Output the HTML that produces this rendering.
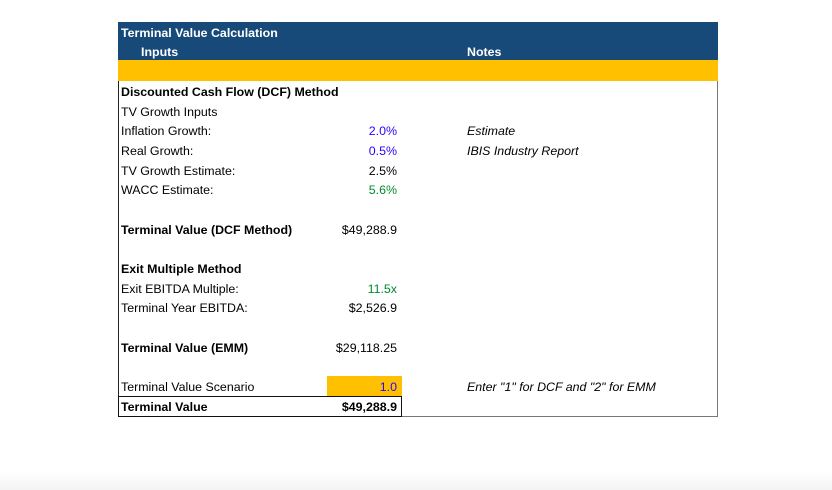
<!DOCTYPE html>
<html><head><meta charset="utf-8"><style>
body{margin:0;width:832px;height:490px;background:#fff;position:relative;overflow:hidden;font-family:"Liberation Sans",sans-serif;font-size:12.4px;color:#000}
.a{position:absolute;white-space:nowrap;line-height:19.6px;margin-top:2px}
.b{font-weight:bold}
.r{text-align:right;width:120px;left:277px}
.n{left:467px;font-style:italic}
</style></head><body>
<div style="position:absolute;left:0;top:472px;width:832px;height:18px;background:linear-gradient(#fff,#f3f3f3)"></div>
<div style="position:absolute;left:118px;top:22px;width:598px;height:394px;border-right:1.5px solid #777;border-bottom:1.5px solid #777;border-left:1.5px solid #222"></div>
<div style="position:absolute;left:118px;top:22px;width:600px;height:38px;background:#174a79"></div>
<div style="position:absolute;left:118px;top:60px;width:600px;height:21px;background:#ffc000"></div>
<div class="a b" style="left:121px;top:22px;color:#fff">Terminal Value Calculation</div>
<div class="a b" style="left:141px;top:41px;color:#fff">Inputs</div>
<div class="a b" style="left:467px;top:41px;color:#fff">Notes</div>

<div class="a b" style="left:121px;top:81px">Discounted Cash Flow (DCF) Method</div>
<div class="a" style="left:121px;top:101px">TV Growth Inputs</div>
<div class="a" style="left:121px;top:120px">Inflation Growth:</div>
<div class="a r" style="top:120px;color:#2a00ff">2.0%</div>
<div class="a n" style="top:120px">Estimate</div>
<div class="a" style="left:121px;top:140px">Real Growth:</div>
<div class="a r" style="top:140px;color:#2a00ff">0.5%</div>
<div class="a n" style="top:140px">IBIS Industry Report</div>
<div class="a" style="left:121px;top:160px">TV Growth Estimate:</div>
<div class="a r" style="top:160px">2.5%</div>
<div class="a" style="left:121px;top:179px">WACC Estimate:</div>
<div class="a r" style="top:179px;color:#008a2e">5.6%</div>

<div class="a b" style="left:121px;top:219px">Terminal Value (DCF Method)</div>
<div class="a r" style="top:219px">$49,288.9</div>

<div class="a b" style="left:121px;top:258px">Exit Multiple Method</div>
<div class="a" style="left:121px;top:278px">Exit EBITDA Multiple:</div>
<div class="a r" style="top:278px;color:#008a2e">11.5x</div>
<div class="a" style="left:121px;top:297px">Terminal Year EBITDA:</div>
<div class="a r" style="top:297px">$2,526.9</div>

<div class="a b" style="left:121px;top:337px">Terminal Value (EMM)</div>
<div class="a r" style="top:337px">$29,118.25</div>

<div style="position:absolute;left:327px;top:376px;width:75px;height:20px;background:#ffc000"></div>
<div class="a" style="left:121px;top:376px">Terminal Value Scenario</div>
<div class="a r" style="top:376px;color:#2a00ff">1.0</div>
<div class="a n" style="top:376px">Enter "1" for DCF and "2" for EMM</div>

<div style="position:absolute;left:118px;top:396px;width:282px;height:19px;border:1.5px solid #111"></div>
<div class="a b" style="left:121px;top:396px">Terminal Value</div>
<div class="a r b" style="top:396px">$49,288.9</div>
</body></html>
